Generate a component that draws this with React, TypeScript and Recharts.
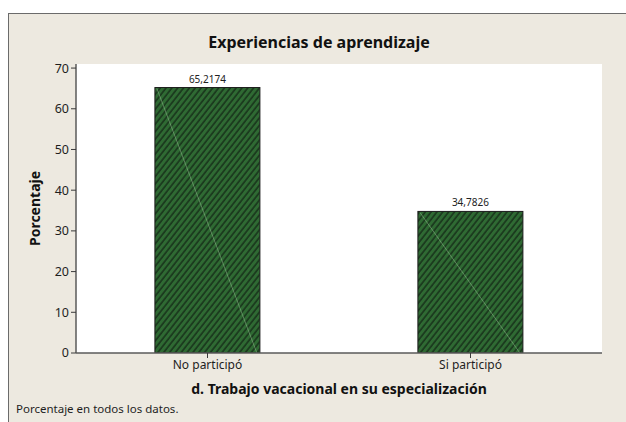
import React from 'react';
import { BarChart, Bar, XAxis, YAxis, CartesianGrid, LabelList, Label } from 'recharts';

const categories = ['No participó', 'Si participó'];
const percentages = [65.2174, 34.7826];
const yTicks = [0, 10, 20, 30, 40, 50, 60, 70];
const yDomain = [0, 71];

const titleText = 'Experiencias de aprendizaje';
const xTitle = 'd. Trabajo vacacional en su especialización';
const yTitle = 'Porcentaje';
const footnote = 'Porcentaje en todos los datos.';

const data = categories.map((c, i) => ({ category: c, pct: percentages[i] }));

const FONT = '"Noto Sans", "Liberation Sans", Arial, sans-serif';

const HatchBar = (props: any) => {
  const { x, y, width, height, index } = props;
  if (width == null || height == null) return null;
  const id = `hatch-${index}`;
  return (
    <g>
      <defs>
        <pattern id={id} patternUnits="userSpaceOnUse" width={4.6} height={10} patternTransform="rotate(38)">
          <rect x={0} y={0} width={4.6} height={10} fill="#2F6A33" />
          <line x1={1} y1={0} x2={1} y2={10} stroke="#17311A" strokeWidth={1.5} />
        </pattern>
      </defs>
      <rect x={x} y={y} width={width} height={height} fill={`url(#${id})`} stroke="#1b1b1b" strokeWidth={1} />
      <line x1={x + 2} y1={y + 1} x2={x + width - 3} y2={y + height} stroke="#a9cfa6" strokeOpacity={0.55} strokeWidth={0.8} />
    </g>
  );
};

export default function App() {
  return (
    <div style={{ position: 'fixed', left: 0, top: 0, width: 626, height: 422, background: '#ffffff', overflow: 'hidden', fontFamily: FONT }}>
      <div style={{ position: 'absolute', left: 8, top: 13, width: 640, height: 420, background: '#EDE9E0', borderLeft: '1px solid #6b6b6b', borderTop: '1px solid #6b6b6b' }} />
      <div style={{ position: 'absolute', left: 0, top: 0 }}>
        <BarChart width={626} height={422} data={data} margin={{ top: 64, right: 24, bottom: 24, left: 36 }} barCategoryGap="30%">
          <CartesianGrid horizontal={false} vertical={false} fill="#ffffff" fillOpacity={1} />
          <XAxis
            dataKey="category"
            tickSize={5}
            tick={{ fill: '#1e1e1e', fontSize: 12, fontFamily: FONT }}
            axisLine={{ stroke: '#5a5a5a', strokeWidth: 1.5 }}
            tickLine={{ stroke: '#3a3a3a' }}
            height={45}
            interval={0}
          >
            <Label value={xTitle} position="insideBottom" offset={4} style={{ fontSize: 14, fontWeight: 700, fill: '#111', fontFamily: FONT }} />
          </XAxis>
          <XAxis xAxisId="top" dataKey="category" orientation="top" height={0} tick={false} tickLine={false} axisLine={{ stroke: '#5a5a5a', strokeWidth: 1.5 }} />
          <YAxis
            domain={yDomain}
            ticks={yTicks}
            tickSize={5}
            width={40}
            tick={{ fill: '#1e1e1e', fontSize: 12.5, fontFamily: FONT }}
            axisLine={{ stroke: '#5a5a5a', strokeWidth: 1.5 }}
            tickLine={{ stroke: '#3a3a3a' }}
            allowDataOverflow
          >
            <Label value={yTitle} angle={-90} position="insideLeft" offset={-1} style={{ textAnchor: 'middle', fontSize: 14, fontWeight: 700, fill: '#111', fontFamily: FONT }} />
          </YAxis>
          <YAxis yAxisId="right" orientation="right" domain={yDomain} width={0} tick={false} tickLine={false} axisLine={{ stroke: '#5a5a5a', strokeWidth: 1.5 }} />
          <Bar dataKey="pct" shape={<HatchBar />} isAnimationActive={false}>
            <LabelList
              dataKey="pct"
              position="top"
              offset={5}
              formatter={(v: any) => String(v).replace('.', ',')}
              style={{ fontSize: 10, fill: '#222', fontFamily: FONT }}
            />
          </Bar>
        </BarChart>
      </div>
      <div style={{ position: 'absolute', left: 0, width: 638, top: 31, textAlign: 'center', fontSize: 16, fontWeight: 700, color: '#111', lineHeight: '22px' }}>{titleText}</div>
      <div style={{ position: 'absolute', left: 16, top: 400, fontSize: 11.5, color: '#1e1e1e', lineHeight: '18px' }}>{footnote}</div>
    </div>
  );
}
